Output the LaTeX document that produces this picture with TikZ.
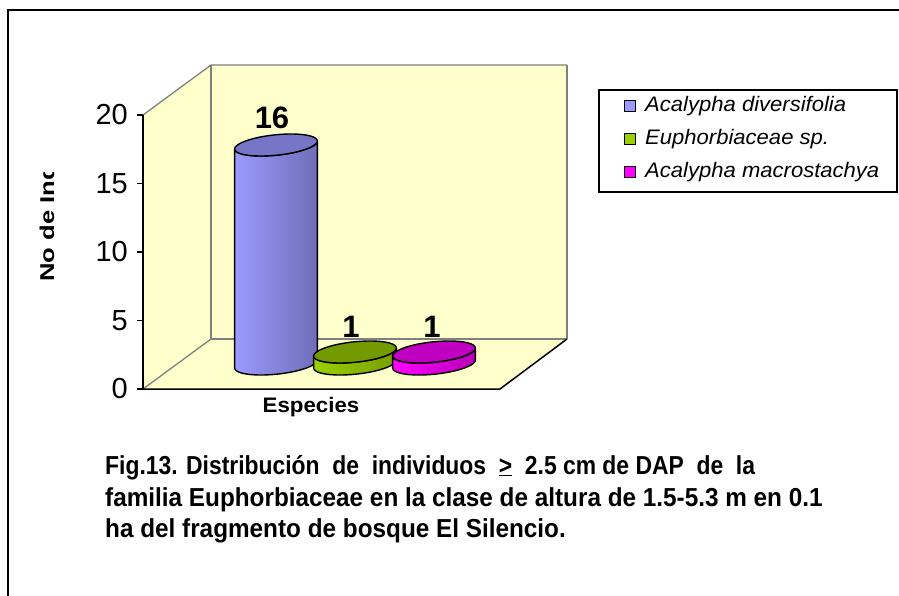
\documentclass[tikz,border=0pt]{standalone}
\usepackage{fontspec}
\setmainfont{Liberation Sans}
\definecolor{wall}{HTML}{FFFFCC}
\definecolor{edge}{HTML}{808080}
\definecolor{bluel}{HTML}{9B9BFF}
\definecolor{blued}{HTML}{6E6EB8}
\definecolor{bluet}{HTML}{7676C8}
\definecolor{greenl}{HTML}{9BCF00}
\definecolor{greend}{HTML}{779E00}
\definecolor{greent}{HTML}{739A00}
\definecolor{magl}{HTML}{FF00FF}
\definecolor{magd}{HTML}{B800B8}
\definecolor{magt}{HTML}{C000C0}
\newcommand{\mycyl}[6]{%
  \path[left color=#4, right color=#5, draw=black, line width=1.4pt, line join=round]
    plot[domain=201.5:381.5, samples=50, variable=\t] ({#1+38.5*cos(\t)+15*sin(\t)},{#2-11*sin(\t)})
    -- plot[domain=381.5:201.5, samples=50, variable=\t] ({#1+38.5*cos(\t)+15*sin(\t)},{#3-11*sin(\t)}) -- cycle;
  \path[fill=#6, draw=black, line width=1.4pt]
    plot[domain=0:360, samples=80, variable=\t] ({#1+38.5*cos(\t)+15*sin(\t)},{#3-11*sin(\t)}) -- cycle;
}
\tikzset{
  ylab/.style={anchor=east, inner sep=0pt, font=\fontsize{29}{33}\selectfont},
  vlab/.style={inner sep=0pt, font=\fontsize{31}{35}\selectfont\bfseries},
  legsq/.style={draw=black, line width=1.2pt, minimum size=11.5pt, inner sep=0pt},
  legtxt/.style={anchor=west, inner sep=0pt, font=\fontsize{21}{25}\selectfont\itshape},
  capline/.style={anchor=base west, inner sep=0pt, font=\fontsize{26}{30}\selectfont\bfseries}
}
\begin{document}
\begin{tikzpicture}[x=1pt,y=-1pt]
\useasboundingbox (0,0) rectangle (899,596);
\fill[white] (0,0) rectangle (899,596);
% frame
\draw[line width=2pt] (8,596) -- (8,10) -- (899,10);
% walls
\fill[wall] (143,389) -- (143,115) -- (211,65) -- (211,339) -- cycle;
\fill[wall] (211,65) rectangle (567,339);
\fill[wall] (143,389) -- (500,389) -- (567,339) -- (211,339) -- cycle;
\draw[edge, line width=1.3pt] (143,115) -- (211,65) -- (567,65);
\draw[edge, line width=1.3pt] (211,65) -- (211,339) -- (567,339);
\draw[edge, line width=2.2pt] (567,65) -- (567,339);
\draw[edge, line width=1.3pt] (143,389) -- (211,339);
\draw[black, line width=1.5pt] (143,389) -- (500,389) -- (567,339);
% y axis
\draw[black, line width=1.5pt] (143,115) -- (143,389);
\foreach \v/\yy in {0/389,5/320.5,10/252,15/183.5,20/115}{
  \draw[black, line width=1.3pt] (137,\yy) -- (143,\yy);
  \node[ylab] (y\v) at (128,\yy) {\v};
}
% y axis title (clipped)
\begin{scope}
\clip (20,173) rectangle (70,300);
\node[rotate=90, anchor=base west, inner sep=0pt, font=\fontsize{20}{24}\selectfont\bfseries] (ytitle) at (54,282) {\scalebox{1.28}[1]{No de Individuos}};
\end{scope}
% cylinders
\mycyl{276}{364}{145}{bluel}{blued}{bluet}
\mycyl{355}{364}{352}{greenl}{greend}{greent}
\mycyl{434}{364}{352}{magl}{magd}{magt}
% value labels
\node[vlab] (v1) at (272,118) {16};
\node[vlab] (v2) at (351,327) {1};
\node[vlab] (v3) at (432,327) {1};
% x axis title
\node[inner sep=0pt, font=\fontsize{21}{25}\selectfont\bfseries] (xtitle) at (311,407) {\scalebox{1.06}[1]{Especies}};
% legend
\draw[black, line width=1.5pt] (599,90) rectangle (897,192);
\node[legsq, fill=bluel] (s1) at (630,106) {};
\node[legsq, fill=greenl] (s2) at (630,139) {};
\node[legsq, fill=magl] (s3) at (630,172) {};
\node[legtxt] (t1) at (645,106) {\scalebox{1.05}[1]{Acalypha diversifolia}};
\node[legtxt] (t2) at (645,139) {\scalebox{1.05}[1]{Euphorbiaceae sp.}};
\node[legtxt] (t3) at (645,172) {\scalebox{1.05}[1]{Acalypha macrostachya}};
% caption
\node[capline] (c1) at (105,474) {\scalebox{0.88}[1]{Fig.13. Distribución\ \ de\ \ individuos\ \ \underline{>}\ \ 2.5 cm de DAP\ \ de\ \ la}};
\node[capline] (c2) at (105,506) {\scalebox{0.935}[1]{familia Euphorbiaceae en la clase de altura de 1.5-5.3 m en 0.1}};
\node[capline] (c3) at (105,537) {\scalebox{0.935}[1]{ha del fragmento de bosque El Silencio.}};
\end{tikzpicture}
\end{document}
